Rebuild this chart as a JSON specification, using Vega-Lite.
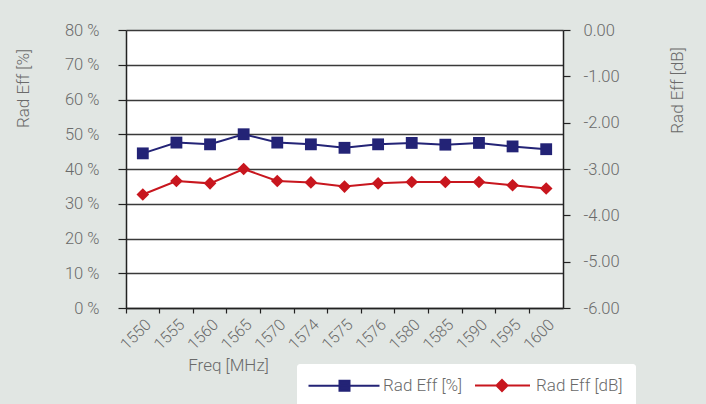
{
  "$schema": "https://vega.github.io/schema/vega-lite/v6.json",
  "width": 437,
  "height": 278,
  "autosize": {"type": "none"},
  "padding": {"left": 126, "top": 30, "right": 143, "bottom": 96},
  "background": "#e1e6e3",
  "config": {
    "view": {"fill": "white", "stroke": null},
    "font": "Roboto",
    "axis": {
      "labelColor": "#6a6a6a",
      "titleColor": "#6a6a6a",
      "titleFontWeight": 300,
      "labelFontWeight": 300,
      "domainColor": "#222222",
      "tickColor": "#222222",
      "domainWidth": 1.5,
      "tickWidth": 1.2
    }
  },
  "data": {
    "values": [
      {"freq": "1550", "pct": 44.5, "db": -3.55},
      {"freq": "1555", "pct": 47.6, "db": -3.26},
      {"freq": "1560", "pct": 47.1, "db": -3.31},
      {"freq": "1565", "pct": 50.0, "db": -3.00},
      {"freq": "1570", "pct": 47.6, "db": -3.26},
      {"freq": "1574", "pct": 47.1, "db": -3.29},
      {"freq": "1575", "pct": 46.1, "db": -3.38},
      {"freq": "1576", "pct": 47.1, "db": -3.31},
      {"freq": "1580", "pct": 47.5, "db": -3.28},
      {"freq": "1585", "pct": 47.0, "db": -3.28},
      {"freq": "1590", "pct": 47.5, "db": -3.28},
      {"freq": "1595", "pct": 46.5, "db": -3.35},
      {"freq": "1600", "pct": 45.7, "db": -3.42}
    ]
  },
  "encoding": {
    "x": {
      "field": "freq",
      "type": "ordinal",
      "scale": {"type": "band", "paddingInner": 0, "paddingOuter": 0},
      "axis": {
        "bandPosition": 0,
        "labelAngle": -45,
        "labelFontSize": 16,
        "labelPadding": 3,
        "tickSize": 5,
        "grid": false,
        "title": "Freq [MHz]",
        "titleFontSize": 17,
        "titleX": 102,
        "titleY": 49,
        "titleAlign": "center",
        "titleAnchor": "start",
        "titleBaseline": "top"
      }
    }
  },
  "layer": [
    {
      "encoding": {
        "y": {
          "field": "pct",
          "type": "quantitative",
          "scale": {"domain": [0, 80], "nice": false},
          "axis": {
            "values": [0, 10, 20, 30, 40, 50, 60, 70, 80],
            "labelExpr": "datum.value + ' %'",
            "labelFontSize": 16.5,
            "labelPadding": 19,
            "tickSize": 8,
            "grid": true,
            "gridColor": "#3a3a3a",
            "gridWidth": 1.3,
            "title": "Rad Eff [%]",
            "titleFontSize": 17,
            "titleX": -103,
            "titleY": 58,
            "titleAlign": "center",
            "titleBaseline": "middle",
            "titleAngle": -90
          }
        },
        "color": {
          "datum": "Rad Eff [%]",
          "type": "nominal",
          "scale": {"domain": ["Rad Eff [%]", "Rad Eff [dB]"], "range": ["#232376", "#c8161e"]},
          "legend": {
            "orient": "none",
            "legendX": 171,
            "legendY": 334,
            "direction": "horizontal",
            "title": null,
            "fillColor": "white",
            "padding": 13,
            "cornerRadius": 3,
            "symbolSize": 100,
            "symbolStrokeWidth": 2,
            "labelOffset": 56,
            "columnPadding": -10,
            "labelFontSize": 17,
            "labelFont": "Roboto",
            "labelFontWeight": 300,
            "labelColor": "#6a6a6a",
            "encode": {
              "symbols": {
                "update": {
                  "shape": {"signal": "datum.value === 'Rad Eff [%]' ? 'M-2,0H12.2M4.2,-1H6.2V1H4.2Z' : 'M0.7,0H11.7M6.1,-1.1L7.2,0L6.1,1.1L5,0Z'"},
                  "fill": {"signal": "datum.value === 'Rad Eff [%]' ? '#232376' : '#c8161e'"},
                  "stroke": {"signal": "datum.value === 'Rad Eff [%]' ? '#5a5a9a' : '#d9474d'"},
                  "opacity": {"value": 1},
                  "fillOpacity": {"value": 1}
                }
              }
            }
          }
        }
      },
      "layer": [
        {"mark": {"type": "line", "strokeWidth": 2}, "encoding": {}},
        {"mark": {"type": "point", "shape": "square", "filled": true, "size": 140, "opacity": 1}, "encoding": {}}
      ]
    },
    {
      "encoding": {
        "y": {
          "field": "db",
          "type": "quantitative",
          "scale": {"domain": [-6, 0], "nice": false},
          "axis": {
            "orient": "right",
            "values": [-6, -5, -4, -3, -2, -1, 0],
            "labelExpr": "(datum.value < 0 ? '-' : '') + format(abs(datum.value), '.2f')",
            "labelFontSize": 16.5,
            "labelPadding": 13,
            "tickSize": 7,
            "grid": false,
            "title": "Rad Eff [dB]",
            "titleFontSize": 17,
            "titleX": 114,
            "titleY": 60,
            "titleAlign": "center",
            "titleBaseline": "middle",
            "titleAngle": -90
          }
        },
        "color": {"datum": "Rad Eff [dB]", "type": "nominal"}
      },
      "layer": [
        {"mark": {"type": "line", "strokeWidth": 2}, "encoding": {}},
        {"mark": {"type": "point", "shape": "diamond", "filled": true, "size": 160, "opacity": 1}, "encoding": {}}
      ]
    }
  ],
  "resolve": {"scale": {"y": "independent"}}
}
